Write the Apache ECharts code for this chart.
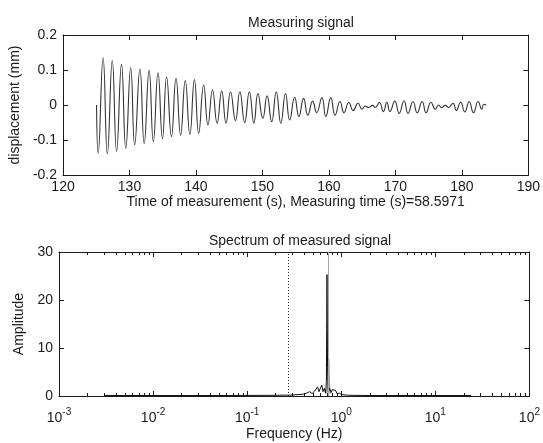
<!DOCTYPE html>
<html><head><meta charset="utf-8">
<script src="https://cdn.jsdelivr.net/npm/echarts@6/dist/echarts.min.js"></script>
<style>html,body{margin:0;padding:0;background:#fff}#c{width:543px;height:443px}</style>
</head><body><div id="c"></div>
<script>
// ---- Top plot: measured signal (extrema) ----
const signalTime = [125.04,125.29,126.03,126.67,127.41,128.06,128.80,129.44,130.18,130.78,131.57,132.21,132.95,133.59,134.29,134.96,135.58,136.31,137.00,137.69,138.39,139.08,139.77,140.41,141.16,141.80,142.49,143.18,143.87,144.52,145.20,145.95,146.60,147.33,148.03,148.72,149.32,150.06,150.70,151.39,152.08,152.77,153.47,154.10,154.85,155.49,156.19,156.83,157.55,158.16,158.95,159.54,160.28,160.93,161.67,162.27,163.00,163.65,164.39,164.98,165.48,165.97,166.57,166.96,167.60,168.20,168.72,169.18,169.92,170.57,171.31,171.90,172.65,173.28,174.03,174.62,175.36,176.01,176.50,176.95,177.50,178.00,178.68,179.17,179.81,180.45,181.10,181.75,182.45,183.00,183.30,183.64];
const signalValue = [0.000,-0.138,0.135,-0.140,0.127,-0.133,0.116,-0.124,0.107,-0.114,0.103,-0.110,0.099,-0.105,0.092,-0.096,0.080,-0.090,0.076,-0.086,0.070,-0.084,0.073,-0.081,0.057,-0.057,0.043,-0.052,0.040,-0.052,0.038,-0.045,0.038,-0.050,0.038,-0.052,0.033,-0.038,0.026,-0.048,0.038,-0.052,0.033,-0.043,0.022,-0.033,0.019,-0.029,0.011,-0.022,0.021,-0.033,0.021,-0.029,0.010,-0.022,0.007,-0.016,0.005,-0.012,-0.003,-0.007,-0.001,-0.007,0.007,-0.019,0.008,-0.019,0.011,-0.024,0.012,-0.024,0.010,-0.022,0.010,-0.022,0.008,-0.012,0.000,-0.008,-0.001,-0.007,0.005,-0.016,0.008,-0.020,0.010,-0.022,0.010,-0.012,0.002,0.000];

// ---- Bottom plot: spectrum ----
const specFreq = [0.003,0.005,0.01,0.02,0.05,0.1,0.2,0.3,0.35,0.4,0.43,0.46,0.49,0.52,0.54,0.56,0.58,0.6,0.62,0.64,0.66,0.68,0.695,0.705,0.715,0.73,0.75,0.78,0.8,0.83,0.87,0.9,0.95,1.0,1.2,2,5,10,24];
const specAmp  = [0.12,0.1,0.1,0.1,0.1,0.12,0.15,0.2,0.3,0.4,0.6,0.9,0.5,1.0,0.7,1.9,0.9,1.3,2.3,0.9,1.6,0.6,3.0,25.3,6.0,0.8,1.6,0.7,1.3,0.9,1.2,0.5,0.6,0.3,0.15,0.1,0.1,0.1,0.1];
const grayFreq = [0.70,0.715,0.725,0.735,0.745,0.76];
const grayAmp  = [0.5,2.0,5.0,7.8,3.0,0.5];
const cutoffFreq = 0.267;
const peakFreq = 0.73;
const specYMax = 30;
const logDecades = [0.001,0.01,0.1,1,10];
const logMinorSteps = [2,3,4,5,6,7,8,9];

const FONT = '"Liberation Sans", Arial, sans-serif';
const FS = 14;
const ink = '#1a1a1a';

const minorTicks = [];
logDecades.forEach(d => logMinorSteps.forEach(m => minorTicks.push([d * m, 0])));

const zip = (a, b) => a.map((v, i) => [v, b[i]]);

const txt = {color: ink, fontSize: FS, fontFamily: FONT};
const line = {onZero: false, lineStyle: {color: ink, width: 1}};
const tick = {inside: true, length: 5, lineStyle: {color: ink, width: 1}};

const logLabel = {
  color: ink, fontFamily: FONT, margin: 11,
  formatter: v => '{b|10}{s|' + Math.round(Math.log10(v)) + '}',
  rich: {
    b: {fontSize: FS, fontFamily: FONT, color: ink, verticalAlign: 'bottom'},
    s: {fontSize: 10, fontFamily: FONT, color: ink, verticalAlign: 'bottom', padding: [0, 0, 8, 0]}
  }
};

const chart = echarts.init(document.getElementById('c'), null, {renderer: 'canvas'});
chart.setOption({
  animation: false,
  backgroundColor: '#fff',
  title: [
    {text: 'Measuring signal', left: 296, top: 11, textAlign: 'center', textStyle: {...txt, fontWeight: 'normal'}},
    {text: 'Spectrum of measured signal', left: 295, top: 229, textAlign: 'center', textStyle: {...txt, fontWeight: 'normal'}}
  ],
  grid: [
    {left: 60, top: 35, width: 472, height: 140},
    {left: 59, top: 252, width: 472, height: 144}
  ],
  xAxis: [
    {gridIndex: 0, type: 'value', min: 120, max: 190, interval: 10, position: 'bottom',
     axisLine: line, axisTick: tick, splitLine: {show: false},
     axisLabel: {...txt, margin: 5},
     name: 'Time of measurement (s), Measuring time (s)=58.5971', nameLocation: 'middle', nameGap: 17,
     nameTextStyle: txt},
    {gridIndex: 0, type: 'value', min: 120, max: 190, interval: 10, position: 'top',
     axisLine: line, axisTick: tick, splitLine: {show: false}, axisLabel: {show: false}},
    {gridIndex: 1, type: 'log', logBase: 10, min: 0.001, max: 100, position: 'bottom',
     axisLine: line, axisTick: tick, splitLine: {show: false}, axisLabel: logLabel,
     name: 'Frequency (Hz)', nameLocation: 'middle', nameGap: 31, nameTextStyle: txt},
    {gridIndex: 1, type: 'log', logBase: 10, min: 0.001, max: 100, position: 'top',
     axisLine: line, axisTick: tick, splitLine: {show: false}, axisLabel: {show: false}}
  ],
  yAxis: [
    {gridIndex: 0, type: 'value', min: -0.2, max: 0.2, interval: 0.1, position: 'left',
     axisLine: {show: true, ...line}, axisTick: tick, splitLine: {show: false},
     axisLabel: {...txt, margin: 6},
     name: 'displacement (mm)', nameLocation: 'middle', nameGap: 36, nameTextStyle: txt},
    {gridIndex: 0, type: 'value', min: -0.2, max: 0.2, interval: 0.1, position: 'right',
     axisLine: {show: true, ...line}, axisTick: tick, splitLine: {show: false}, axisLabel: {show: false}},
    {gridIndex: 1, type: 'value', min: 0, max: specYMax, interval: 10, position: 'left',
     axisLine: {show: true, ...line}, axisTick: tick, splitLine: {show: false},
     axisLabel: {...txt, margin: 6},
     name: 'Amplitude', nameLocation: 'middle', nameGap: 29, nameTextStyle: txt},
    {gridIndex: 1, type: 'value', min: 0, max: specYMax, interval: 10, position: 'right',
     axisLine: {show: true, ...line}, axisTick: tick, splitLine: {show: false}, axisLabel: {show: false}}
  ],
  series: [
    {type: 'line', xAxisIndex: 0, yAxisIndex: 0, data: zip(signalTime, signalValue),
     showSymbol: false, smooth: 0.5, lineStyle: {color: '#333', width: 1.1}, silent: true},
    {type: 'line', xAxisIndex: 2, yAxisIndex: 2, data: zip(grayFreq, grayAmp),
     showSymbol: false, lineStyle: {color: '#9a9a9a', width: 1.5}, silent: true},
    {type: 'line', xAxisIndex: 2, yAxisIndex: 2, data: zip(specFreq, specAmp),
     showSymbol: false, lineStyle: {color: '#111', width: 1}, silent: true,
     markLine: {silent: true, symbol: 'none', label: {show: false},
       data: [
         {xAxis: cutoffFreq, lineStyle: {color: '#333', type: [1, 2], width: 1}},
         {xAxis: peakFreq, lineStyle: {color: '#aaa', type: 'solid', width: 1}}
       ]}},
    {type: 'custom', xAxisIndex: 2, yAxisIndex: 2, data: minorTicks, silent: true,
     renderItem: (params, api) => {
       const v = api.value(0);
       const b = api.coord([v, 0]);
       const t = api.coord([v, specYMax]);
       const x = Math.round(b[0]) + 0.5;
       return {type: 'group', children: [
         {type: 'line', shape: {x1: x, y1: b[1], x2: x, y2: b[1] - 3}, style: {stroke: ink, lineWidth: 1}},
         {type: 'line', shape: {x1: x, y1: t[1], x2: x, y2: t[1] + 3}, style: {stroke: ink, lineWidth: 1}}
       ]};
     }}
  ]
});
</script>
</body></html>
